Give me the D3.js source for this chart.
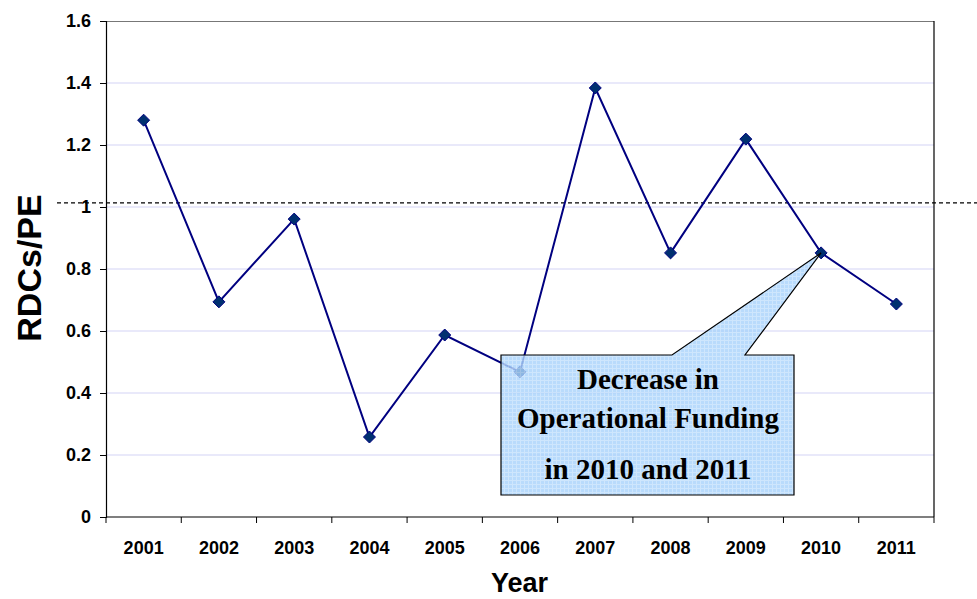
<!DOCTYPE html>
<html><head><meta charset="utf-8">
<script src="https://cdn.jsdelivr.net/npm/d3@7"></script>
<style>body{margin:0;background:#fff}svg{display:block}</style>
</head><body>
<svg id="c" width="977" height="599"></svg>
<script>
const years = ["2001","2002","2003","2004","2005","2006","2007","2008","2009","2010","2011"];
const values = [1.28, 0.694, 0.961, 0.258, 0.587, 0.468, 1.384, 0.852, 1.219, 0.852, 0.687];
const yTicks = [0, 0.2, 0.4, 0.6, 0.8, 1, 1.2, 1.4, 1.6];
const refValue = 1.013;
const calloutLines = ["Decrease in", "Operational Funding", "in 2010 and 2011"];
const calloutTarget = "2010";

const svg = d3.select("#c");
const m = {l:106, r:934, t:21, b:517};
const x = d3.scaleBand().domain(years).range([m.l, m.r]);
const y = d3.scaleLinear().domain([0, 1.6]).range([m.b, m.t]);
const cx = d => x(d) + x.bandwidth()/2;
const sans = "Liberation Sans, Arial, sans-serif";

const defs = svg.append("defs");
const pat = defs.append("pattern").attr("id","grid").attr("width",4).attr("height",4).attr("patternUnits","userSpaceOnUse");
pat.append("rect").attr("width",4).attr("height",4).attr("fill","#a9d3fb");
pat.append("path").attr("d","M0,0.5H4M0.5,0V4").attr("stroke","#c3e1fd").attr("stroke-width",1);

// gridlines
svg.append("g").selectAll("line").data(yTicks.filter(t=>t>0 && t<1.6)).join("line")
  .attr("x1", m.l).attr("x2", m.r).attr("y1", d=>y(d)).attr("y2", d=>y(d))
  .attr("stroke", "#d4d4f6").attr("stroke-width", 1.2);

// border
svg.append("line").attr("x1",m.l).attr("x2",m.r).attr("y1",m.t+0.5).attr("y2",m.t+0.5).attr("stroke","#777").attr("stroke-width",1.2);
svg.append("line").attr("x1",m.r).attr("x2",m.r).attr("y1",m.t).attr("y2",m.b).attr("stroke","#000").attr("stroke-width",1.2);

// y axis
const ya = svg.append("g").attr("transform",`translate(${m.l},0)`)
  .call(d3.axisLeft(y).tickValues(yTicks).tickSize(6).tickPadding(9).tickFormat(d3.format("~g")));
ya.select(".domain").attr("stroke","#000").attr("stroke-width",1.2);
ya.selectAll(".tick line").attr("stroke","#000");
ya.selectAll("text").attr("font-family",sans).attr("font-weight","bold").attr("font-size","18px").attr("fill","#000");

// x axis with ticks between categories
const xa = svg.append("g").attr("transform",`translate(0,${m.b})`)
  .call(d3.axisBottom(x).tickSize(0).tickPadding(24));
xa.select(".domain").remove();
xa.selectAll("text").attr("font-family",sans).attr("font-weight","bold").attr("font-size","18px").attr("fill","#000");
svg.append("line").attr("x1",m.l).attr("x2",m.r).attr("y1",m.b).attr("y2",m.b).attr("stroke","#000").attr("stroke-width",1.2);
const bounds = years.map(d=>x(d)).concat([m.r]);
svg.append("g").selectAll("line").data(bounds).join("line")
  .attr("x1",d=>d).attr("x2",d=>d).attr("y1",m.b).attr("y2",m.b+6).attr("stroke","#000");

// axis titles
svg.append("text").attr("transform",`translate(41,268) rotate(-90)`)
  .attr("text-anchor","middle").attr("font-family",sans)
  .attr("font-weight","bold").attr("font-size","34px").text("RDCs/PE");
svg.append("text").attr("x",519.5).attr("y",592).attr("text-anchor","middle")
  .attr("font-family",sans)
  .attr("font-weight","bold").attr("font-size","27px").text("Year");

// dashed reference line
svg.append("line").attr("x1",57).attr("x2",977).attr("y1",y(refValue)).attr("y2",y(refValue))
  .attr("stroke","#000").attr("stroke-width",1.2).attr("stroke-dasharray","4,3");

// series line
const line = d3.line().x((d,i)=>cx(years[i])).y(d=>y(d));
svg.append("path").datum(values).attr("d", line).attr("fill","none").attr("stroke","#000080").attr("stroke-width",2);
svg.append("g").selectAll("path").data(values).join("path")
  .attr("transform",(d,i)=>`translate(${cx(years[i])},${y(d)})`)
  .attr("d","M0,-6L6,0L0,6L-6,0Z")
  .attr("fill","#003070").attr("stroke","#000080").attr("stroke-width",1);

// callout
const bx0 = 501, bx1 = 794, by0 = 355, by1 = 495;
const tx = cx(calloutTarget), ty = y(values[years.indexOf(calloutTarget)]);
const pts = [[bx0,by0],[672,by0],[tx,ty],[745,by0],[bx1,by0],[bx1,by1],[bx0,by1]];
svg.append("path").attr("d","M"+pts.map(p=>p.join(",")).join("L")+"Z")
  .attr("fill","url(#grid)").attr("fill-opacity",0.82).attr("stroke","#000").attr("stroke-width",1.2);
const ly = [389, 428, 479];
svg.append("g").selectAll("text").data(calloutLines).join("text")
  .attr("x",(bx0+bx1)/2+0.5).attr("y",(d,i)=>ly[i]).attr("text-anchor","middle")
  .attr("font-family","Liberation Serif, Times New Roman, serif").attr("font-weight","bold")
  .attr("font-size","29px").attr("fill","#000").text(d=>d);
</script>
</body></html>
